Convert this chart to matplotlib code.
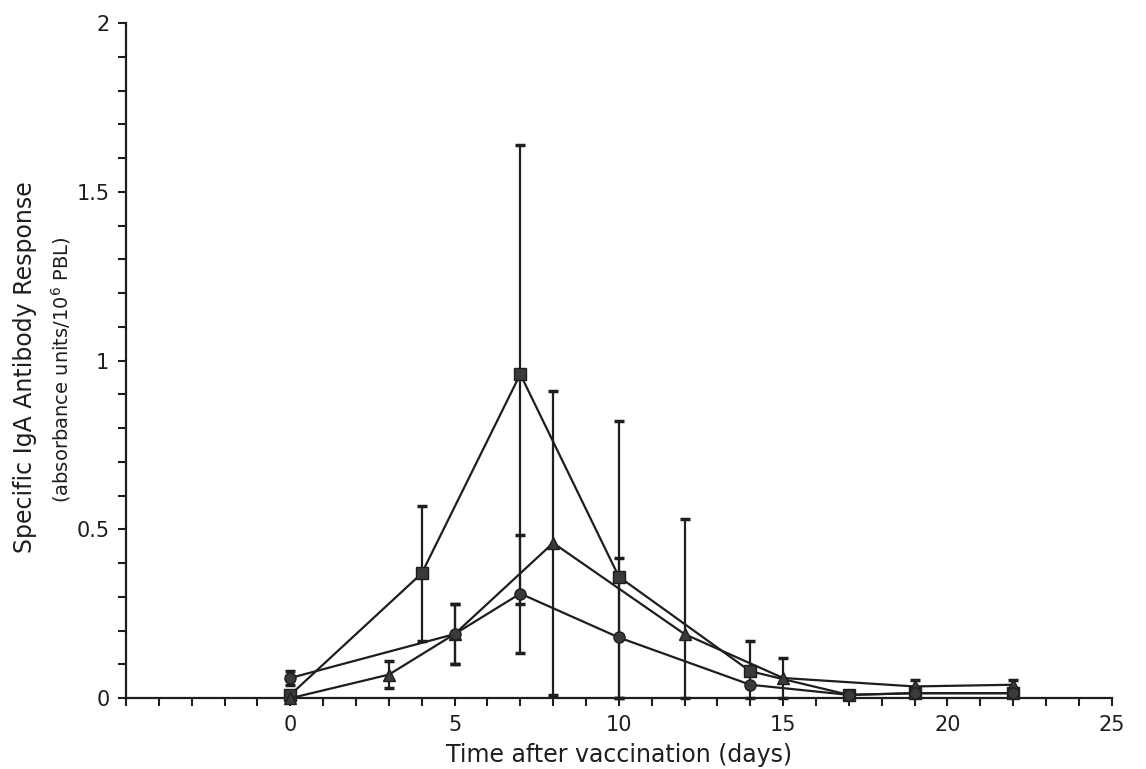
import numpy as np
import matplotlib
matplotlib.use('Agg')
import matplotlib.pyplot as plt
from matplotlib.ticker import MultipleLocator, FixedLocator

# Datos (dias, respuesta IgA, error)
x_sq = [0, 4, 7, 10, 14, 17, 19, 22]
y_sq = [0.01, 0.37, 0.96, 0.36, 0.08, 0.01, 0.015, 0.015]
e_sq = [0, 0.20, 0.68, 0.46, 0.09, 0, 0, 0]

x_tri = [0, 3, 5, 8, 12, 15, 19, 22]
y_tri = [0.0, 0.07, 0.19, 0.46, 0.19, 0.06, 0.035, 0.04]
e_tri = [0, 0.04, 0.09, 0.45, 0.34, 0.06, 0.02, 0.015]

x_ci = [0, 5, 7, 10, 14, 17, 19, 22]
y_ci = [0.06, 0.19, 0.31, 0.18, 0.04, 0.01, 0.015, 0.015]
e_ci = [0.02, 0.09, 0.175, 0.235, 0, 0, 0, 0]

x_labels = ["0", "5", "10", "15", "20", "25"]
y_labels = ["0", "0.5", "1", "1.5", "2"]

col = "#1e1e1e"

fig = plt.figure(figsize=(11.46, 7.69), dpi=100)
ax = fig.add_axes([0.110, 0.092, 0.860, 0.878])

series = [(x_sq, y_sq, e_sq, "s"), (x_tri, y_tri, e_tri, "^"), (x_ci, y_ci, e_ci, "o")]
for xs, ys, es, m in series:
    ys = np.array(ys)
    es = np.array(es)
    lower = np.minimum(es, ys)  # las barras no bajan del eje
    ax.errorbar(xs, ys, yerr=[lower, es], color=col, marker=m, markersize=8,
                linewidth=1.6, elinewidth=1.6, capsize=3.5, capthick=2.5,
                markerfacecolor="#3a3a3a", markeredgecolor=col, clip_on=False, zorder=3)

ax.set_xlim(-5, 25)
ax.set_ylim(0, 2)

for s in ("top", "right"):
    ax.spines[s].set_visible(False)
for s in ("left", "bottom"):
    ax.spines[s].set_linewidth(1.6)
    ax.spines[s].set_color(col)

ax.xaxis.set_major_locator(FixedLocator([0, 5, 10, 15, 20, 25]))
ax.set_xticklabels(x_labels)
ax.xaxis.set_minor_locator(MultipleLocator(1))
ax.yaxis.set_major_locator(FixedLocator([0, 0.5, 1, 1.5, 2]))
ax.set_yticklabels(y_labels)
ax.yaxis.set_minor_locator(MultipleLocator(0.1))
ax.tick_params(which="both", direction="out", length=6, width=1.5, color=col)
ax.tick_params(axis="both", labelsize=15, labelcolor=col, pad=6)

ax.set_xlabel("Time after vaccination (days)", fontsize=17, color=col, labelpad=6)

fig.text(0.022, 0.523, "Specific IgA Antibody Response", rotation=90,
         fontsize=17, color=col, ha="center", va="center")
fig.text(0.053, 0.519, "(absorbance units/10$^6$ PBL)", rotation=90,
         fontsize=14, color=col, ha="center", va="center")

plt.savefig("out.png", dpi=100)
